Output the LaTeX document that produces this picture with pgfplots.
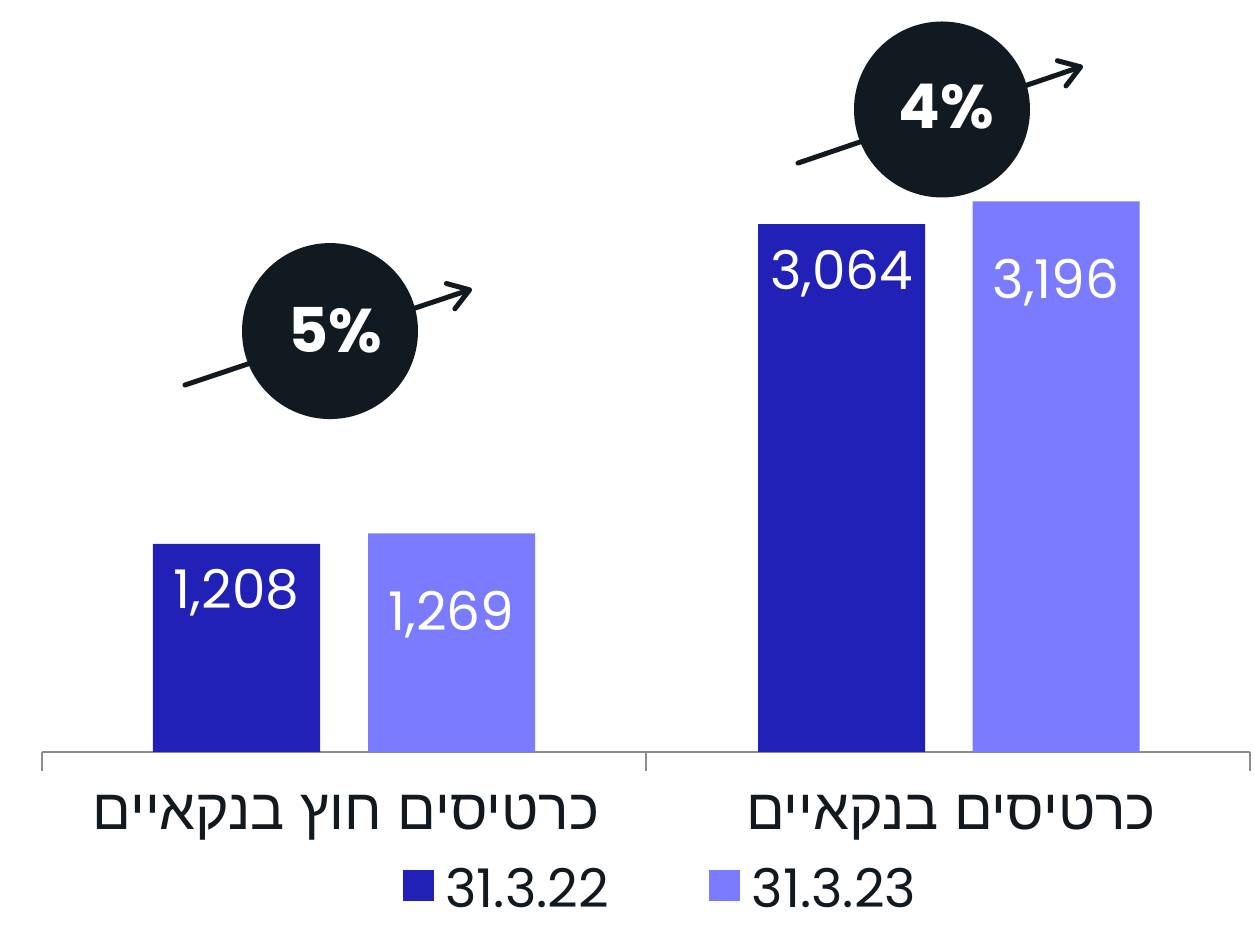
\documentclass[border=0pt]{standalone}
\usepackage{fontspec}
\setmainfont{Poppins}
\newfontfamily\hebfont[Script=Hebrew]{Liberation Sans}
\TeXXeTstate=1
\usepackage{pgfplots}
\pgfplotsset{compat=1.18}
\usetikzlibrary{arrows.meta}
\definecolor{dblue}{HTML}{2121B8}
\definecolor{lblue}{HTML}{7B7BFF}
\definecolor{ink}{HTML}{121A21}
\definecolor{axgrey}{HTML}{8C8C8C}
\begin{document}
\begin{tikzpicture}
\useasboundingbox (-25.2pt,-111pt) rectangle (727.8pt,451.2pt);
\begin{axis}[
  scale only axis,
  width=724.8pt, height=451.2pt,
  xmin=42, xmax=1250, ymin=0, ymax=4364.5,
  clip=false,
  axis x line*=bottom,
  axis y line=none,
  x axis line style={axgrey, line width=0.9pt},
  xtick={42,646,1250},
  xticklabels={},
  major tick length=11.4pt,
  tick align=outside,
  tick style={axgrey, line width=0.9pt},
  legend columns=2,
  legend style={draw=none, fill=none, at={(0.5125,-0.1822)}, anchor=center,
    font=\fontsize{32}{38}\selectfont, text=ink,
    /tikz/every odd column/.append style={column sep=5pt},
    /tikz/every even column/.append style={column sep=58pt}},
  legend image code/.code={\fill[#1] (0pt,-7pt) rectangle (18.6pt,11.6pt);},
]
\addplot[ybar, bar width=167, bar shift=0pt, fill=dblue, draw=none,
  point meta=explicit symbolic, nodes near coords,
  every node near coord/.append style={anchor=base, yshift=-39pt, text=white,
    font=\fontsize{32}{38}\selectfont}]
  coordinates {(236.5,1208) [1,208] (841.5,3064) [3,064]};
\addlegendentry{31.3.22}
\addplot[ybar, bar width=167, bar shift=0pt, fill=lblue, draw=none,
  point meta=explicit symbolic, nodes near coords,
  every node near coord/.append style={anchor=base, yshift=-58.2pt, text=white,
    font=\fontsize{32}{38}\selectfont}]
  coordinates {(451.5,1269) [1,269] (1056,3196) [3,196]};
\addlegendentry{31.3.23}
% arrows and circles
\draw[ink, line width=3pt, line cap=round, -{Straight Barb[length=12pt,width=16pt,round]}]
  (axis cs:185,2130) -- (axis cs:472,2687);
\fill[ink] (axis cs:330,2443) circle[radius=52.8pt];
\node[text=white, font=\fontsize{37}{44}\bfseries\selectfont] at (axis cs:335,2450) {5\%};
\draw[ink, line width=3pt, line cap=round, -{Straight Barb[length=12pt,width=16pt,round]}]
  (axis cs:798,3418) -- (axis cs:1083,3981);
\fill[ink] (axis cs:942,3729) circle[radius=52.8pt];
\node[text=white, font=\fontsize{37}{44}\bfseries\selectfont] at (axis cs:946,3745) {4\%};
% category labels
\node[anchor=base, text=ink, font=\fontsize{34.3}{40}\hebfont] at (axis cs:346,-452.7) {\beginR כרטיסים חוץ בנקאיים\endR};
\node[anchor=base, text=ink, font=\fontsize{34.3}{40}\hebfont] at (axis cs:951,-452.7) {\beginR כרטיסים בנקאיים\endR};
\end{axis}
\end{tikzpicture}
\end{document}
